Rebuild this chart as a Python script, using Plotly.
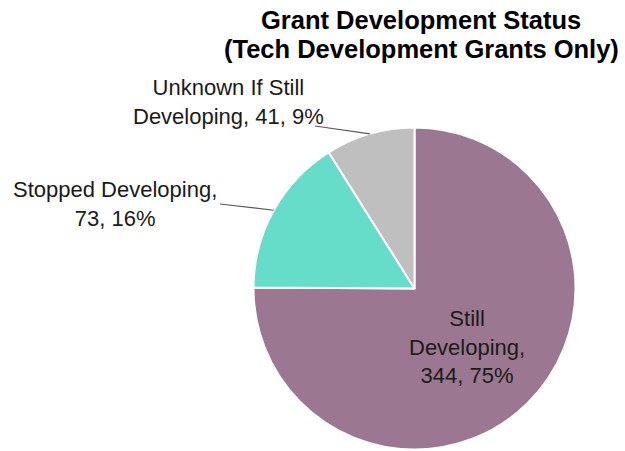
import math
import plotly.graph_objects as go

# Grant status breakdown
labels = ["Still Developing", "Stopped Developing", "Unknown If Still Developing"]
values = [344, 73, 41]
label_lines = [["Still", "Developing,"], ["Stopped Developing,"], ["Unknown If Still", "Developing,"]]
colors = ["#9C7791", "#66DDC8", "#BFBFBF"]

W, H = 625, 451
FONT = "Liberation Sans, Arial, sans-serif"

# pie placement in pixels
cx, cy, r = 414.5, 288.5, 161.0

total = sum(values)
pcts = [round(100 * v / total) for v in values]


def px(x, y):
    return x / W, 1 - y / H


fig = go.Figure(
    go.Pie(
        labels=labels,
        values=values,
        sort=False,
        direction="clockwise",
        rotation=0,
        textinfo="none",
        hoverinfo="label+value+percent",
        marker=dict(colors=colors, line=dict(color="white", width=2)),
        domain=dict(x=[(cx - r) / W, (cx + r) / W], y=[(H - cy - r) / H, (H - cy + r) / H]),
        showlegend=False,
    )
)

# label text blocks (centre of text, pixels) and leader-line end points
text_pos = [(467, 347), (115, 204), (228, 102)]
leader_end = [None, (220, 204), (315, 126)]

annotations = []
shapes = []
cum = 0
for i, v in enumerate(values):
    mid = (cum + v / 2) / total * 2 * math.pi
    cum += v
    lines = label_lines[i]
    last = f"{v}, {pcts[i]}%"
    if i < 2:
        txt = "<br>".join(lines + [last])
    else:
        txt = lines[0] + "<br>" + lines[1] + " " + last
    tx, ty = px(*text_pos[i])
    annotations.append(dict(
        x=tx, y=ty, xref="paper", yref="paper", text=txt, showarrow=False,
        xanchor="center", yanchor="middle", align="center",
        font=dict(family=FONT, size=22, color="#1A1A1A"),
    ))
    if leader_end[i] is not None:
        ex, ey = cx + r * math.sin(mid), cy - r * math.cos(mid)
        x0, y0 = px(*leader_end[i])
        x1, y1 = px(ex, ey)
        shapes.append(dict(type="line", xref="paper", yref="paper",
                           x0=x0, y0=y0, x1=x1, y1=y1,
                           line=dict(color="#595959", width=1.2)))

# title, two lines
title_lines = ["Grant Development Status", "(Tech Development Grants Only)"]
for j, t in enumerate(title_lines):
    annotations.append(dict(
        x=421 / W, y=1 - (20 + 28.5 * j) / H, xref="paper", yref="paper",
        text=f"<b>{t}</b>", showarrow=False, xanchor="center", yanchor="middle",
        font=dict(family=FONT, size=25.5, color="#000000"),
    ))

fig.update_layout(
    width=W, height=H,
    margin=dict(l=0, r=0, t=0, b=0),
    paper_bgcolor="white", plot_bgcolor="white",
    annotations=annotations, shapes=shapes,
)

fig.write_html("out.html")
